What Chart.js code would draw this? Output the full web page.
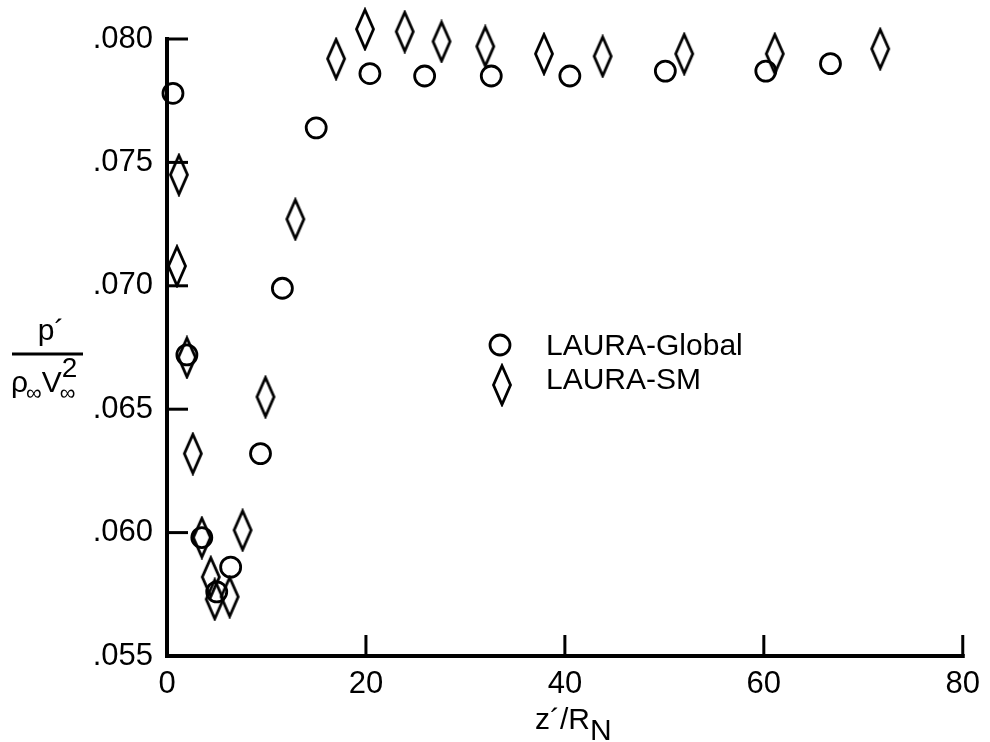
<!DOCTYPE html>
<html>
<head>
<meta charset="utf-8">
<script src="https://cdn.jsdelivr.net/npm/chart.js@4.4.0/dist/chart.umd.min.js"></script>
<style>
  html, body { margin:0; padding:0; background:#fff; }
  #wrap { width:990px; height:742px; }
</style>
</head>
<body>
<div id="wrap"><canvas id="c" width="990" height="742"></canvas></div>
<script>
// LAURA-Global (circles)
const globalX = [0.6, 2.0, 3.5, 5.0, 6.4, 9.4, 11.6, 15.0, 20.4, 25.9, 32.6, 40.5, 50.1, 60.2, 66.7];
const globalY = [0.0778, 0.0672, 0.0598, 0.0576, 0.0586, 0.0632, 0.0699, 0.0764, 0.0786, 0.0785, 0.0785, 0.0785, 0.0787, 0.0787, 0.0790];
// LAURA-SM (diamonds)
const smX = [1.2, 1.0, 2.0, 2.6, 3.5, 4.4, 4.8, 6.3, 7.6, 9.9, 12.9, 17.0, 19.9, 23.9, 27.6, 32.0, 37.9, 43.8, 52.0, 61.1, 71.7];
const smY = [0.0745, 0.0708, 0.0671, 0.0632, 0.0598, 0.0582, 0.0573, 0.0574, 0.0601, 0.0655, 0.0727, 0.0792, 0.0804, 0.0803, 0.0799, 0.0797, 0.0794, 0.0793, 0.0794, 0.0794, 0.0796];

const xTicks = [0, 20, 40, 60, 80];
const yTicks = [0.055, 0.060, 0.065, 0.070, 0.075, 0.080];
const seriesNames = ["LAURA-Global", "LAURA-SM"];

const FONT = '"Liberation Sans", Arial, Helvetica, sans-serif';

// tall thin diamond marker
function diamond(w, h, lw){
  const c = document.createElement('canvas');
  c.width = w + lw*2; c.height = h + lw*2;
  const g = c.getContext('2d');
  const cx = c.width/2, cy = c.height/2;
  g.strokeStyle = '#000'; g.lineWidth = lw; g.lineJoin = 'miter';
  g.beginPath();
  g.moveTo(cx, lw); g.lineTo(cx + w/2, cy); g.lineTo(cx, cy + h/2); g.lineTo(cx - w/2, cy);
  g.closePath(); g.stroke();
  return c;
}
const diaImg = diamond(17, 39, 2.8);

const pts = (xs, ys) => xs.map((x, i) => ({x: x, y: ys[i]}));

// axes lines, inward ticks, titles, legend
const decor = {
  id: 'decor',
  afterDraw(chart){
    const ctx = chart.ctx, xs = chart.scales.x, ys = chart.scales.y;
    const L = xs.left, R = xs.right, T = ys.top, B = ys.bottom;
    ctx.save();
    ctx.strokeStyle = '#000'; ctx.fillStyle = '#000';
    ctx.lineCap = 'square';
    ctx.lineWidth = 4;
    ctx.beginPath(); ctx.moveTo(L, T); ctx.lineTo(L, B); ctx.lineTo(R, B); ctx.stroke();
    ctx.lineWidth = 3; ctx.lineCap = 'butt';
    yTicks.forEach(v => {
      const py = ys.getPixelForValue(v);
      ctx.beginPath(); ctx.moveTo(L, py); ctx.lineTo(L + 21, py); ctx.stroke();
    });
    xTicks.forEach(v => {
      const px = xs.getPixelForValue(v);
      ctx.beginPath(); ctx.moveTo(px, B); ctx.lineTo(px, B - 21); ctx.stroke();
    });

    // x title: z´/R_N
    ctx.textBaseline = 'alphabetic'; ctx.textAlign = 'left';
    ctx.font = '30px ' + FONT;
    let x = 535;
    ctx.fillText('z´/R', x, 729); x += ctx.measureText('z´/R').width;
    ctx.fillText('N', x, 740);

    // y title: p´ / (ρ∞ V∞²)
    ctx.textAlign = 'center';
    ctx.fillText('p´', 51, 340);
    ctx.lineWidth = 3;
    ctx.beginPath(); ctx.moveTo(12, 354); ctx.lineTo(83, 354); ctx.stroke();
    ctx.textAlign = 'left';
    x = 11;
    ctx.font = '30px ' + FONT; ctx.fillText('ρ', x, 392); x += ctx.measureText('ρ').width - 2;
    ctx.font = '22px ' + FONT; ctx.fillText('∞', x, 400); x += ctx.measureText('∞').width;
    ctx.font = '30px ' + FONT; ctx.fillText('V', x, 392); x += ctx.measureText('V').width - 2;
    ctx.font = '22px ' + FONT; ctx.fillText('∞', x, 400);
    ctx.font = '28px ' + FONT; ctx.fillText('2', x + 2, 377);

    // legend
    ctx.lineWidth = 2.8;
    ctx.beginPath(); ctx.arc(500, 345, 10, 0, Math.PI*2); ctx.stroke();
    ctx.drawImage(diaImg, 502 - diaImg.width/2, 385 - diaImg.height/2);
    ctx.font = '30px ' + FONT;
    ctx.fillText(seriesNames[0], 546, 355);
    ctx.fillText(seriesNames[1], 546, 389);
    ctx.restore();
  }
};

new Chart(document.getElementById('c'), {
  type: 'scatter',
  data: {
    datasets: [
      { label: seriesNames[0], data: pts(globalX, globalY), pointStyle: 'circle', pointRadius: 10,
        borderColor: '#000', backgroundColor: 'rgba(0,0,0,0)', borderWidth: 2.8, clip: false },
      { label: seriesNames[1], data: pts(smX, smY), pointStyle: diaImg, pointRadius: 10,
        borderColor: '#000', backgroundColor: 'rgba(0,0,0,0)', clip: false }
    ]
  },
  options: {
    responsive: false,
    animation: false,
    devicePixelRatio: 1,
    layout: { padding: { left: 0, right: 25, top: 39, bottom: 0 } },
    plugins: { legend: { display: false }, tooltip: { enabled: false } },
    scales: {
      x: {
        type: 'linear', min: 0, max: 80,
        afterFit: s => { s.height = 86; },
        afterBuildTicks: s => { s.ticks = xTicks.map(v => ({value: v})); },
        grid: { display: false, drawTicks: false },
        border: { display: false },
        ticks: { color: '#000', font: { family: FONT, size: 31 }, padding: 10, maxRotation: 0,
                 callback: v => String(v) }
      },
      y: {
        type: 'linear', min: 0.055, max: 0.080,
        afterFit: s => { s.width = 167; },
        afterBuildTicks: s => { s.ticks = yTicks.map(v => ({value: v})); },
        grid: { display: false, drawTicks: false },
        border: { display: false },
        ticks: { color: '#000', font: { family: FONT, size: 31 }, padding: 14,
                 callback: v => '.' + v.toFixed(3).split('.')[1] }
      }
    }
  },
  plugins: [decor]
});
</script>
</body>
</html>
